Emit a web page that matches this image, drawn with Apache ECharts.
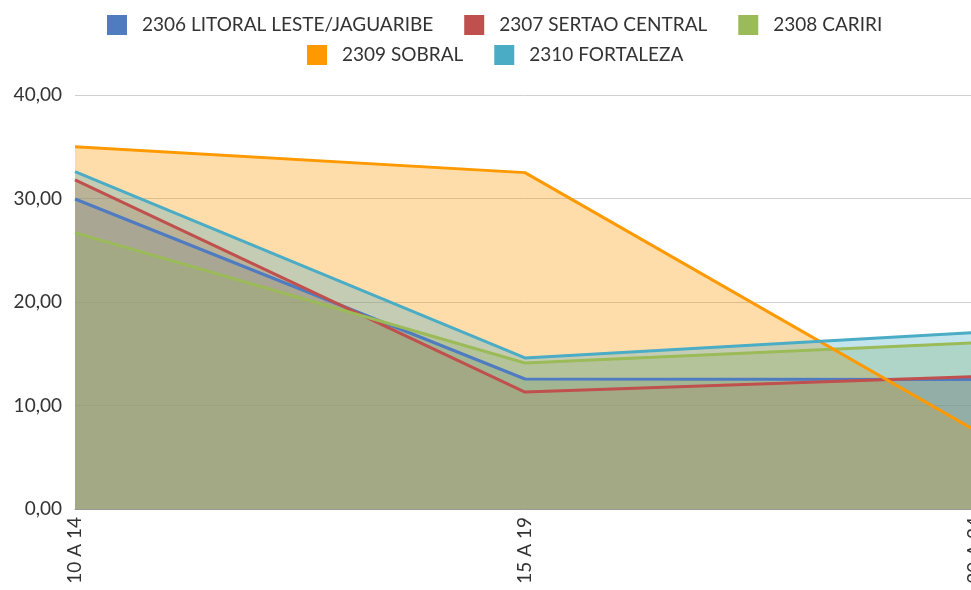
<!DOCTYPE html>
<html><head><meta charset="utf-8">
<script src="https://cdn.jsdelivr.net/npm/echarts@6/dist/echarts.min.js"></script>
<style>html,body{margin:0;padding:0;background:#fff}#c{width:971px;height:590px}</style>
</head><body><div id="c"></div>
<script>
const categories = ['10 A 14', '15 A 19', '20 A 24'];
const seriesNames = ['2306 LITORAL LESTE/JAGUARIBE', '2307 SERTAO CENTRAL', '2308 CARIRI', '2309 SOBRAL', '2310 FORTALEZA'];
const litoral = [29.95, 12.56, 12.5];
const sertao = [31.8, 11.3, 12.8];
const cariri = [26.7, 14.1, 16.05];
const sobral = [35.0, 32.5, 7.6];
const fortaleza = [32.6, 14.6, 17.05];
const yTicks = [0, 10, 20, 30, 40];
const colors = ['#4f7bc0', '#c0504d', '#9bbb59', '#ff9900', '#4bacc6'];
const values = [litoral, sertao, cariri, sobral, fortaleza];

const font = 'Lato, "Open Sans", sans-serif';
const chart = echarts.init(document.getElementById('c'), null, {renderer: 'canvas'});
chart.setOption({
  animation: false,
  color: colors,
  legend: [
    {top: 10, left: 102, itemWidth: 20, itemHeight: 20, itemGap: 31, icon: 'rect',
     data: seriesNames.slice(0, 3),
     textStyle: {fontFamily: font, fontSize: 19, color: '#333', padding: [0, 0, 0, 10]}},
    {top: 40, left: 302, itemWidth: 20, itemHeight: 20, itemGap: 31, icon: 'rect',
     data: seriesNames.slice(3),
     textStyle: {fontFamily: font, fontSize: 19, color: '#333', padding: [0, 0, 0, 10]}}
  ],
  grid: {left: 75, right: -4, top: 95, bottom: 81, containLabel: false, outerBoundsMode: 'none'},
  xAxis: {
    type: 'category', data: categories, boundaryGap: false,
    axisLine: {lineStyle: {color: '#999', width: 1}},
    axisTick: {show: false},
    axisLabel: {rotate: 90, fontFamily: font, fontSize: 19, color: '#333', margin: 8, interval: 0}
  },
  yAxis: {
    type: 'value', min: yTicks[0], max: yTicks[yTicks.length - 1], interval: 10,
    axisLine: {show: false}, axisTick: {show: false},
    splitLine: {lineStyle: {color: '#d0d0d0', width: 1}},
    axisLabel: {fontFamily: font, fontSize: 19, color: '#333', margin: 13,
      formatter: v => v.toFixed(2).replace('.', ',')}
  },
  series: seriesNames.map((n, i) => ({
    name: n, type: 'line', data: values[i], symbol: 'none',
    lineStyle: {width: 3, color: colors[i]},
    itemStyle: {color: colors[i]},
    areaStyle: {color: colors[i], opacity: 0.33}
  }))
});
</script></body></html>
